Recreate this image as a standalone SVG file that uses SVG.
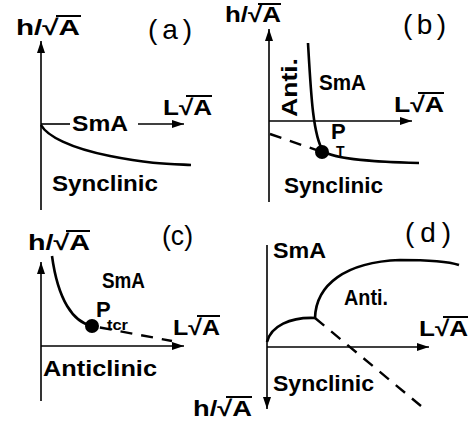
<svg xmlns="http://www.w3.org/2000/svg" width="473" height="426" viewBox="0 0 473 426">
<defs>
<marker id="ah" viewBox="0 0 12 8" refX="12" refY="4" markerWidth="12" markerHeight="8" markerUnits="userSpaceOnUse" orient="auto">
<path d="M0,0 L12,4 L0,8 Z" fill="#000"/>
</marker>
<style>
.ax{stroke:#000;stroke-width:1.6;fill:none}
.cv{stroke:#000;stroke-width:2.6;fill:none}
.ds{stroke:#000;stroke-width:2.4;fill:none;stroke-dasharray:12 9}
.t{font-family:"Liberation Sans",Arial,sans-serif;font-weight:bold;font-size:22px;fill:#000}
.p{font-family:"Liberation Sans",Arial,sans-serif;font-size:28px;fill:#000}
.s{font-family:"Liberation Sans",Arial,sans-serif;font-weight:bold;font-size:14px;fill:#000}
.ol{stroke:#000;stroke-width:2}
</style>
</defs>
<rect width="473" height="426" fill="#fff"/>

<g id="connectors">
<!-- panel a -->
<line class="ax" x1="41" y1="210" x2="41" y2="41" marker-end="url(#ah)"/>
<line class="ax" x1="41" y1="124" x2="70" y2="124"/>
<line class="ax" x1="138" y1="124" x2="184" y2="124" marker-end="url(#ah)"/>
<path class="cv" d="M41,125 C47,136 70,148 110,156 S170,164 191,165"/>
<!-- panel b -->
<line class="ax" x1="269" y1="202" x2="269" y2="29" marker-end="url(#ah)"/>
<line class="ax" x1="269" y1="121" x2="412" y2="121" marker-end="url(#ah)"/>
<path class="cv" d="M308,43 C311,95 313,135 323,151 C335,160 380,162 419,163"/>
<path class="ds" d="M270,134 L322,152"/>
<!-- panel c -->
<line class="ax" x1="41" y1="401" x2="41" y2="262" marker-end="url(#ah)"/>
<line class="ax" x1="41" y1="346" x2="184" y2="346" marker-end="url(#ah)"/>
<path class="cv" d="M52,256 C58,300 73,322 92,326"/>
<path class="ds" d="M92,326 L172,341" stroke-dashoffset="-8"/>
<!-- panel d -->
<line class="ax" x1="267" y1="245" x2="267" y2="409" marker-end="url(#ah)"/>
<line class="ax" x1="267" y1="347" x2="429" y2="347" marker-end="url(#ah)"/>
<path class="cv" d="M267,342 C271,326 290,317 315,318"/>
<path class="cv" d="M315,318 C316,285 345,262 400,260 C430,260 450,262 459,265"/>
<path class="ds" d="M315,318 L421,406"/>
</g>

<g id="panel-a">
<text class="t" x="16" y="35" textLength="64" lengthAdjust="spacingAndGlyphs">h/√A</text>
<line class="ol" x1="56" y1="16" x2="81" y2="16"/>
<text class="p" x="148" y="39" textLength="44" lengthAdjust="spacing">(a)</text>
<text class="t" x="72" y="131" textLength="56" lengthAdjust="spacingAndGlyphs">SmA</text>
<text class="t" x="163" y="115" textLength="49" lengthAdjust="spacingAndGlyphs">L√A</text>
<line class="ol" x1="186" y1="96" x2="212" y2="96"/>
<text class="t" x="52" y="191" textLength="106" lengthAdjust="spacingAndGlyphs">Synclinic</text>
</g>

<g id="panel-b">
<text class="t" x="225" y="22" textLength="56" lengthAdjust="spacingAndGlyphs">h/√A</text>
<line class="ol" x1="258" y1="4" x2="281" y2="4"/>
<text class="p" x="403" y="34" textLength="43" lengthAdjust="spacing">(b)</text>
<text class="t" transform="translate(297,117) rotate(-90)" textLength="59" lengthAdjust="spacingAndGlyphs">Anti.</text>
<text class="t" x="319" y="90" textLength="47" lengthAdjust="spacingAndGlyphs">SmA</text>
<text class="t" x="394" y="112" textLength="50" lengthAdjust="spacingAndGlyphs">L√A</text>
<line class="ol" x1="418" y1="93" x2="444" y2="93"/>
<circle cx="322" cy="152" r="7" fill="#000"/>
<text class="t" x="331" y="139" font-size="17">P</text>
<text class="s" x="336" y="156">T</text>
<text class="t" x="284" y="193" textLength="99" lengthAdjust="spacingAndGlyphs">Synclinic</text>
</g>

<g id="panel-c">
<text class="t" x="28" y="250" textLength="62" lengthAdjust="spacingAndGlyphs">h/√A</text>
<line class="ol" x1="66" y1="231" x2="90" y2="231"/>
<text class="p" x="162" y="245" textLength="31" lengthAdjust="spacingAndGlyphs">(c)</text>
<text class="t" x="102" y="288" textLength="43" lengthAdjust="spacingAndGlyphs">SmA</text>
<circle cx="92" cy="326" r="7" fill="#000"/>
<text class="t" x="96" y="317" font-size="18">P</text>
<text class="s" x="107" y="330" textLength="21" lengthAdjust="spacingAndGlyphs" font-weight="normal">tcr</text>
<text class="t" x="173" y="335" textLength="47" lengthAdjust="spacingAndGlyphs">L√A</text>
<line class="ol" x1="197" y1="316" x2="220" y2="316"/>
<text class="t" x="43" y="376" textLength="114" lengthAdjust="spacingAndGlyphs">Anticlinic</text>
</g>

<g id="panel-d">
<text class="p" x="405" y="242" textLength="46" lengthAdjust="spacing">(d)</text>
<text class="t" x="273" y="258" textLength="53" lengthAdjust="spacingAndGlyphs">SmA</text>
<text class="t" x="344" y="305" textLength="44" lengthAdjust="spacingAndGlyphs">Anti.</text>
<text class="t" x="419" y="336" textLength="49" lengthAdjust="spacingAndGlyphs">L√A</text>
<line class="ol" x1="443" y1="317" x2="468" y2="317"/>
<text class="t" x="273" y="391" textLength="101" lengthAdjust="spacingAndGlyphs">Synclinic</text>
<text class="t" x="193" y="416" textLength="59" lengthAdjust="spacingAndGlyphs">h/√A</text>
<line class="ol" x1="226" y1="397" x2="252" y2="397"/>
</g>
</svg>
